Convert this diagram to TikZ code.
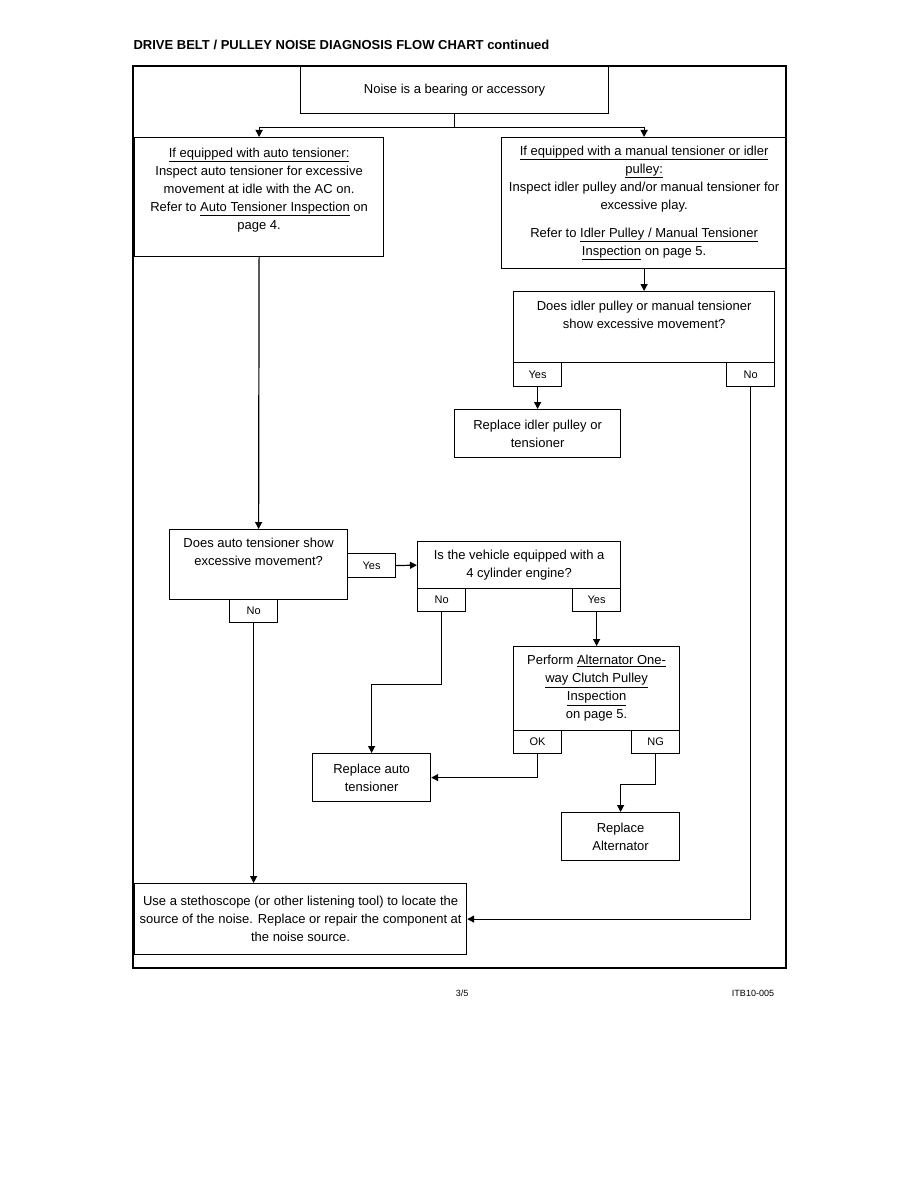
\documentclass[tikz,border=0pt]{standalone}
\usepackage{fontspec}
\setmainfont{Liberation Sans}
\usetikzlibrary{arrows.meta}

\begin{document}
\begin{tikzpicture}[x=1pt, y=-1pt, >={Triangle[length=7pt,width=7pt]}, line width=1.2pt,
    box/.style={draw, anchor=north west, align=center, inner sep=0pt,
        font=\fontsize{13}{18}\selectfont},
    tab/.style={draw, anchor=north west, inner sep=0pt, minimum width=48pt,
        minimum height=24pt, font=\fontsize{11}{13}\selectfont}]
    \fill[white] (0,0) rectangle (918,1188);
    \useasboundingbox (0,0) rectangle (918,1188);

    % Heading and frame
    \node[anchor=west, inner sep=0pt, font=\fontsize{13}{15}\selectfont\bfseries]
        (title) at (133,45) {DRIVE BELT / PULLEY NOISE DIAGNOSIS FLOW CHART continued};
    \draw (133,66) rectangle (786,968);

    % Start
    \node[box, minimum width=308pt, minimum height=47pt] (start) at (300,66)
        {Noise is a bearing or accessory};

    % Auto tensioner branch
    \node[box, minimum width=249pt, minimum height=119pt, text depth=17pt] (auto) at (134,137)
        {\underline{If equipped with auto tensioner:}\\
         Inspect auto tensioner for excessive\\
         movement at idle with the AC on.\\
         Refer to \underline{Auto Tensioner Inspection} on\\
         page 4.};
    \node[box, minimum width=178pt, minimum height=70pt, text depth=25pt] (autoq) at (169,529)
        {Does auto tensioner show\\ excessive movement?};
    \node[tab] (autoyes) at (347,553) {Yes};
    \node[tab, minimum height=23pt] (autono) at (229,599) {No};

    \node[box, minimum width=203pt, minimum height=47pt] (cyl) at (417,541)
        {Is the vehicle equipped with a\\ 4 cylinder engine?};
    \node[tab, minimum height=23pt] (cylno) at (417,588) {No};
    \node[tab, minimum height=23pt] (cylyes) at (572,588) {Yes};

    \node[box, minimum width=166pt, minimum height=84pt] (clutch) at (513,646)
        {Perform \underline{Alternator One-}\\
         \underline{way Clutch Pulley}\\
         \underline{Inspection}\\
         on page 5.};
    \node[tab, minimum height=23pt] (clutchok) at (513,730) {OK};
    \node[tab, minimum height=23pt] (clutchng) at (631,730) {NG};

    \node[box, minimum width=118pt, minimum height=48pt] (repauto) at (312,753)
        {Replace auto\\ tensioner};
    \node[box, minimum width=118pt, minimum height=48pt] (repalt) at (561,812)
        {Replace\\ Alternator};

    % Manual tensioner / idler branch
    \node[box, minimum width=285pt, minimum height=131pt] (manual) at (501,137)
        {\underline{If equipped with a manual tensioner or idler}\\
         \underline{pulley:}\\
         Inspect idler pulley and/or manual tensioner for\\
         excessive play.\\[10pt]
         Refer to \underline{Idler Pulley / Manual Tensioner}\\
         \underline{Inspection} on page 5.};
    \node[box, minimum width=261pt, minimum height=71pt, text depth=25pt] (idlerq) at (513,291)
        {Does idler pulley or manual tensioner\\ show excessive movement?};
    \node[tab] (idleryes) at (513,362) {Yes};
    \node[tab] (idlerno) at (726,362) {No};
    \node[box, minimum width=166pt, minimum height=48pt] (repidler) at (454,409)
        {Replace idler pulley or\\ tensioner};

    % End
    \node[box, minimum width=332pt, minimum height=71pt] (listen) at (134,883)
        {Use a stethoscope (or other listening tool) to locate the\\
         source of the noise. Replace or repair the component at\\
         the noise source.};

    % Connectors
    \draw (start.south) -- ++(0,13) coordinate (split);
    \draw[->] (split) -| (auto.north);
    \draw[->] (split) -| (manual.north);
    \draw[->] (manual.south) -- (idlerq.north);
    \draw[->] (idleryes.south) -- (repidler.north);
    \draw[->] (idlerno.south) |- (listen.east);
    \draw[->] (auto.south) -- (autoq.north);
    \draw[->] (autoyes.east) -- (cyl.west);
    \draw[->] (autono.south) -- (autono.south |- listen.north);
    \draw[->] (cylno.south) -- ++(0,72) -| (repauto.north);
    \draw[->] (cylyes.south) -- (clutch.north);
    \draw[->] (clutchok.south) |- (repauto.east);
    \draw[->] (clutchng.south) -- ++(0,30) -| (repalt.north);

    % Footer
    \node[font=\fontsize{9}{11}\selectfont] (pagenum) at (462,993) {3/5};
    \node[font=\fontsize{9}{11}\selectfont] (docnum) at (753,993) {ITB10-005};
\end{tikzpicture}
\end{document}
